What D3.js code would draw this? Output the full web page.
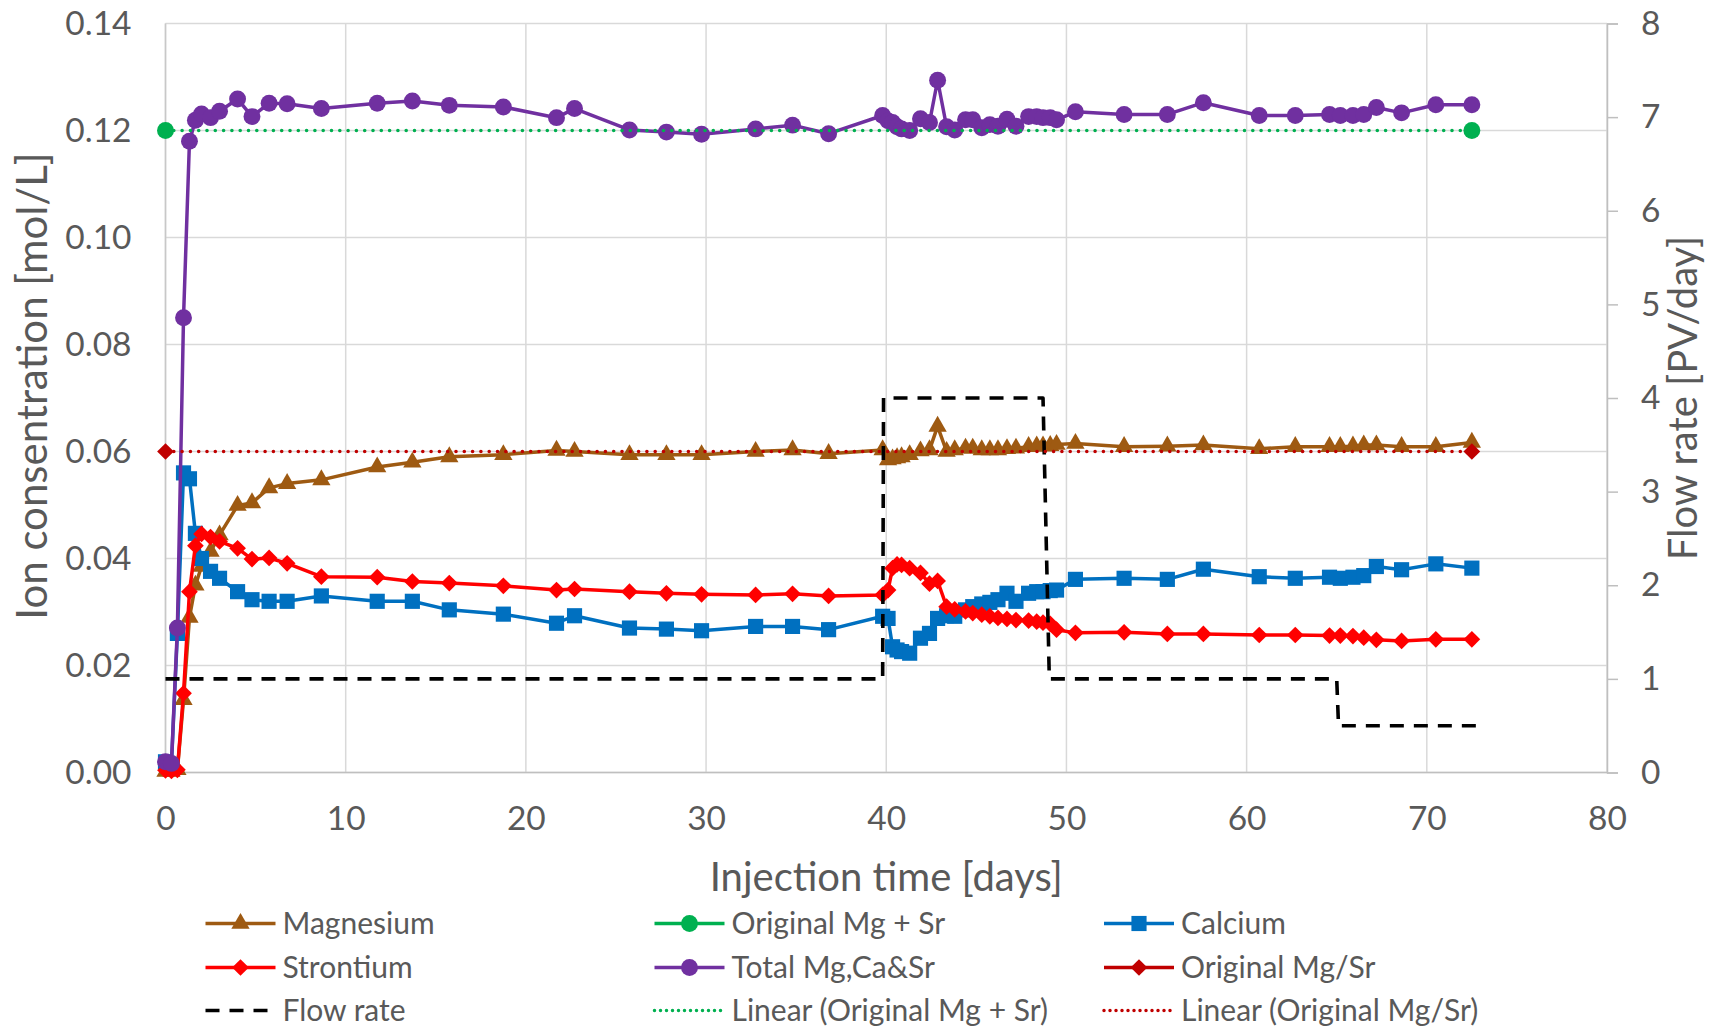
<!DOCTYPE html>
<html><head><meta charset="utf-8">
<script src="https://cdn.jsdelivr.net/npm/d3@7"></script>
<style>
html,body{margin:0;padding:0;background:#fff;}
svg{display:block;}
text{font-family:Lato,"Open Sans",sans-serif;fill:#595959;}
</style></head><body>
<svg id="chart" width="1718" height="1029"></svg>
<script>
// ---------- DATA ----------
const days = [0, 0.33, 0.66, 1.0, 1.33, 1.66, 2.0, 2.5, 3.0, 4.0, 4.8, 5.75, 6.75, 8.65,
  11.75, 13.7, 15.75, 18.75, 21.7, 22.7, 25.75, 27.8, 29.75, 32.75, 34.8, 36.8,
  39.8, 40.1, 40.35, 40.6, 40.85, 41.3, 41.9, 42.4, 42.85, 43.35, 43.8, 44.4, 44.8, 45.3, 45.75, 46.2, 46.7, 47.2, 47.9, 48.35, 48.7, 49.1, 49.45, 50.5,
  53.2, 55.6, 57.6, 60.7, 62.7, 64.6, 65.2, 65.9, 66.5, 67.2, 68.6, 70.5, 72.5];

const magnesium = [0.0002, 0.0002, 0.0005, 0.0136, 0.029, 0.035, 0.0385, 0.0413, 0.0444, 0.0499, 0.0504, 0.0532, 0.054, 0.0547,
  0.0571, 0.058, 0.059, 0.0594, 0.0602, 0.0600, 0.0594, 0.0594, 0.0594, 0.0600, 0.0603, 0.0596,
  0.0603, 0.0584, 0.0586, 0.0588, 0.059, 0.0594, 0.0601, 0.0603, 0.0647, 0.0600, 0.0603, 0.0606, 0.0606, 0.0603, 0.0603, 0.0603, 0.0605, 0.0606, 0.0609, 0.061, 0.061, 0.0611, 0.0613, 0.0615,
  0.0609, 0.061, 0.0612, 0.0605, 0.0609, 0.0609, 0.0609, 0.061, 0.0612, 0.0612, 0.0609, 0.0609, 0.0617];

const calcium = [0.002, 0.0015, 0.026, 0.056, 0.0549, 0.0447, 0.040, 0.0376, 0.0363, 0.0338, 0.0323, 0.032, 0.032, 0.033,
  0.032, 0.032, 0.0304, 0.0296, 0.0279, 0.0293, 0.027, 0.0268, 0.0265, 0.0273, 0.0273, 0.0267,
  0.0292, 0.0288, 0.0235, 0.0229, 0.0226, 0.0223, 0.0251, 0.026, 0.0288, 0.0293, 0.0292, 0.0304, 0.031, 0.0315, 0.0318, 0.0323, 0.0335, 0.032, 0.0335, 0.0338, 0.0338, 0.034, 0.0341, 0.0361,
  0.0363, 0.0361, 0.038, 0.0366, 0.0363, 0.0365, 0.0363, 0.0365, 0.0368, 0.0385, 0.0379, 0.039, 0.0382];

const strontium = [0.0004, 0.0003, 0.0005, 0.0148, 0.0338, 0.0424, 0.0446, 0.044, 0.0432, 0.0419, 0.0399, 0.0401, 0.0391, 0.0366,
  0.0365, 0.0357, 0.0354, 0.0349, 0.0341, 0.0343, 0.0338, 0.0335, 0.0333, 0.0332, 0.0334, 0.033,
  0.0332, 0.0341, 0.0382, 0.0389, 0.0388, 0.0382, 0.0373, 0.0353, 0.0358, 0.031, 0.0305, 0.0301, 0.0298, 0.0295, 0.0292, 0.0289, 0.0287, 0.0285, 0.0284, 0.0282, 0.028, 0.0278, 0.0267, 0.0261,
  0.0262, 0.0259, 0.0259, 0.0257, 0.0257, 0.0256, 0.0256, 0.0255, 0.0252, 0.0248, 0.0246, 0.0249, 0.0249];

const totalMgCaSr = [0.002, 0.0017, 0.027, 0.085, 0.118, 0.1219, 0.1231, 0.1224, 0.1236, 0.1259, 0.1226, 0.1251, 0.125, 0.1241,
  0.1251, 0.1255, 0.1247, 0.1244, 0.1224, 0.1241, 0.1201, 0.1197, 0.1193, 0.1203, 0.121, 0.1194,
  0.1228, 0.1218, 0.1215, 0.1207, 0.1203, 0.12, 0.1222, 0.1215, 0.1294, 0.1207, 0.1201, 0.122, 0.122, 0.1205, 0.1211, 0.1208, 0.1221, 0.1208, 0.1226, 0.1226, 0.1224, 0.1224, 0.122, 0.1235,
  0.123, 0.123, 0.1252, 0.1228, 0.1228, 0.123, 0.1228, 0.1228, 0.123, 0.1243, 0.1233, 0.1248, 0.1248];

const origDays = [0, 72.5];
const origMgPlusSr = [0.12, 0.12];
const origMgOverSr = [0.06, 0.06];

const flowDays = [0, 39.8, 39.85, 48.7, 49.05, 65.0, 65.1, 72.9];
const flowRate = [1, 1, 4, 4, 1, 1, 0.5, 0.5];

const xTicks = [0, 10, 20, 30, 40, 50, 60, 70, 80];
const yLeftTicks = [0, 0.02, 0.04, 0.06, 0.08, 0.10, 0.12, 0.14];
const yRightTicks = [0, 1, 2, 3, 4, 5, 6, 7, 8];

const legendNames = ["Magnesium", "Original Mg + Sr", "Calcium", "Strontium", "Total Mg,Ca&Sr", "Original Mg/Sr", "Flow rate", "Linear (Original Mg + Sr)", "Linear (Original Mg/Sr)"];

// ---------- LAYOUT ----------
const L = 165.5, R = 1607, T = 23.5, B = 772.5;
const svg = d3.select("#chart");
const x = d3.scaleLinear().domain([0, 80]).range([L, R]);
const yL = d3.scaleLinear().domain([0, 0.14]).range([B, T]);
const yR = d3.scaleLinear().domain([0, 8]).range([B, T]);

const C = {mg:"#9E5A12", green:"#00B050", ca:"#0070C0", sr:"#FF0000", tot:"#7030A0", dred:"#C00000", flow:"#000000"};

// grid
const grid = svg.append("g");
grid.selectAll(".gx").data(xTicks).join("line")
  .attr("x1", d => x(d)).attr("x2", d => x(d)).attr("y1", T).attr("y2", B)
  .attr("stroke", "#D9D9D9").attr("stroke-width", 1.5);
grid.selectAll(".gy").data(yLeftTicks).join("line")
  .attr("x1", L).attr("x2", R).attr("y1", d => yL(d)).attr("y2", d => yL(d))
  .attr("stroke", "#D9D9D9").attr("stroke-width", 1.5);
svg.append("line").attr("x1", L).attr("x2", R).attr("y1", B).attr("y2", B).attr("stroke", "#BFBFBF").attr("stroke-width", 1.5);
svg.append("line").attr("x1", L).attr("x2", L).attr("y1", T).attr("y2", B).attr("stroke", "#C8C8C8").attr("stroke-width", 1.5);

// left axis
const axL = d3.axisLeft(yL).tickValues(yLeftTicks).tickFormat(d3.format(".2f")).tickSize(0).tickPadding(34);
const gL = svg.append("g").attr("transform", `translate(${L},0)`).call(axL);
gL.select(".domain").remove();
gL.selectAll("text").attr("font-size", 33.5).attr("fill", "#595959").style("font-family", "Lato");

// right axis
const axR = d3.axisRight(yR).tickValues(yRightTicks).tickFormat(d3.format("d")).tickSize(11).tickPadding(23);
const gR = svg.append("g").attr("transform", `translate(${R},0)`).call(axR);
gR.select(".domain").attr("stroke", "#BFBFBF").attr("stroke-width", 1.5);
gR.selectAll(".tick line").attr("stroke", "#BFBFBF").attr("stroke-width", 1.5);
gR.selectAll("text").attr("font-size", 33.5).attr("fill", "#595959").style("font-family", "Lato");

// bottom axis
const axB = d3.axisBottom(x).tickValues(xTicks).tickFormat(d3.format("d")).tickSize(0).tickPadding(34);
const gB = svg.append("g").attr("transform", `translate(0,${B})`).call(axB);
gB.select(".domain").remove();
gB.selectAll("text").attr("font-size", 33.5).attr("fill", "#595959").style("font-family", "Lato");

// titles
svg.append("text").attr("x", (L + R) / 2).attr("y", 891).attr("text-anchor", "middle")
  .attr("font-size", 40).text("Injection time [days]");
svg.append("text").attr("transform", `translate(47,386) rotate(-90)`).attr("text-anchor", "middle")
  .attr("font-size", 42).text("Ion consentration [mol/L]");
svg.append("text").attr("transform", `translate(1697,${(T + B) / 2}) rotate(-90)`).attr("text-anchor", "middle")
  .attr("font-size", 40).text("Flow rate [PV/day]");

// helpers
const sym = {
  tri: d3.symbol().type(d3.symbolTriangle).size(145),
  circ: d3.symbol().type(d3.symbolCircle).size(225),
  sq: d3.symbol().type(d3.symbolSquare).size(230),
  dia: d3.symbol().type(d3.symbolSquare).size(140)
};
function series(xs, ys, yScale, color, marker, opts = {}) {
  const pts = xs.map((d, i) => [d, ys[i]]);
  const line = d3.line().x(d => x(d[0])).y(d => yScale(d[1]));
  const g = svg.append("g");
  g.append("path").datum(pts).attr("d", line).attr("fill", "none")
    .attr("stroke", color).attr("stroke-width", opts.w || 3.5)
    .attr("stroke-linejoin", "round")
    .attr("stroke-dasharray", opts.dash || null)
    .attr("stroke-linecap", opts.cap || "butt");
  if (marker) {
    g.selectAll("path.m").data(pts).join("path").attr("class", "m")
      .attr("d", sym[marker])
      .attr("transform", d => `translate(${x(d[0])},${yScale(d[1])})` + (marker === "dia" ? " rotate(45)" : ""))
      .attr("fill", color);
  }
}

// draw series (Excel order)
series(days, magnesium, yL, C.mg, "tri");
svg.append("g").selectAll("path").data(origDays.map((d, i) => [d, origMgPlusSr[i]])).join("path")
  .attr("d", sym.circ).attr("transform", d => `translate(${x(d[0])},${yL(d[1])})`).attr("fill", C.green);
series(days, calcium, yL, C.ca, "sq");
series(days, strontium, yL, C.sr, "dia");
series(days, totalMgCaSr, yL, C.tot, "circ");
svg.append("g").selectAll("path").data(origDays.map((d, i) => [d, origMgOverSr[i]])).join("path")
  .attr("d", sym.dia).attr("transform", d => `translate(${x(d[0])},${yL(d[1])}) rotate(45)`).attr("fill", C.dred);
series(flowDays, flowRate, yR, C.flow, null, {w: 3.6, dash: "14,10"});
series(origDays, origMgPlusSr, yL, C.green, null, {w: 3.6, dash: "0,8.3", cap: "round"});
series(origDays, origMgOverSr, yL, C.dred, null, {w: 3.6, dash: "0,8.3", cap: "round"});

// legend
const legCols = [205.5, 654.5, 1104];
const legRows = [923.5, 967.5, 1010.5];
const legSpec = [
  {c: C.mg, m: "tri"}, {c: C.green, m: "circ"}, {c: C.ca, m: "sq"},
  {c: C.sr, m: "dia"}, {c: C.tot, m: "circ"}, {c: C.dred, m: "dia"},
  {c: C.flow, dash: "14,10", w: 3.6}, {c: C.green, dash: "0,6", cap: "round"}, {c: C.dred, dash: "0,6", cap: "round"}
];
legendNames.forEach((name, i) => {
  const cx = legCols[i % 3], cy = legRows[Math.floor(i / 3)];
  const s = legSpec[i];
  const g = svg.append("g");
  g.append("line").attr("x1", cx).attr("x2", cx + 70).attr("y1", cy).attr("y2", cy)
    .attr("stroke", s.c).attr("stroke-width", s.w || 3.5)
    .attr("stroke-dasharray", s.dash || null).attr("stroke-linecap", s.cap || "butt");
  if (s.m) g.append("path").attr("d", sym[s.m]).attr("fill", s.c)
    .attr("transform", `translate(${cx + 35},${cy})` + (s.m === "dia" ? " rotate(45)" : ""));
  g.append("text").attr("x", cx + 77).attr("y", cy).attr("dy", "0.36em")
    .attr("font-size", 30).text(name);
});
</script>
</body></html>
